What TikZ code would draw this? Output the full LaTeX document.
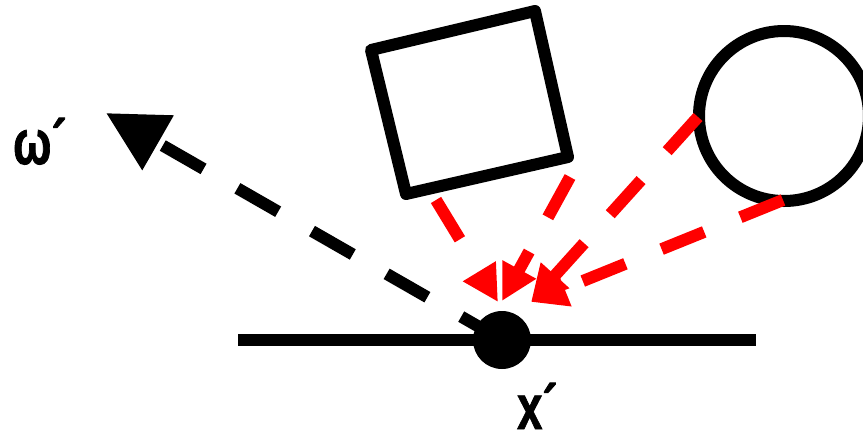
\documentclass[tikz,border=0pt]{standalone}
\usepackage{fontspec}
\setmainfont{Liberation Sans}[BoldFeatures={FakeBold=1.5}]
\usetikzlibrary{arrows.meta}
\begin{document}
\begin{tikzpicture}[x=1pt,y=-1pt,
  thickline/.style={line width=12pt},
  blackarrow/.style={line width=12pt, dash pattern=on 47pt off 39pt, -{Triangle[length=60pt,width=60pt]}},
  redarrow/.style={red, line width=12pt, dash pattern=on 46pt off 39pt, -{Triangle[length=36pt,width=36pt]}},
  lbl/.style={font=\bfseries\fontsize{63}{63}\selectfont, inner sep=0pt, xscale=0.72}]
\useasboundingbox (0,0) rectangle (863,437);
\clip (0,0) rectangle (863,437);
% points
\coordinate (p) at (502,340);
\coordinate (gl) at (238,340);
\coordinate (gr) at (756,340);
\coordinate (wtip) at (106,113);
\coordinate (s1) at (371,50);
\coordinate (s2) at (535,11);
\coordinate (s3) at (568,157);
\coordinate (s4) at (406,194);
\coordinate (c) at (784,116);
\coordinate (r1s) at (436,200);
\coordinate (r1t) at (498,302);
\coordinate (r2s) at (570,177);
\coordinate (r2t) at (502,301);
\coordinate (r3s) at (698,117);
\coordinate (r4s) at (783,200);
\coordinate (r34t) at (531,302);
% ground
\draw[thickline] (gl) -- (gr);
% outgoing direction
\draw[blackarrow] (p) -- (wtip);
\fill (p) circle (29);
% occluders
\draw[thickline, line join=round] (s1) -- (s2) -- (s3) -- (s4) -- cycle;
\draw[thickline] (c) circle (85);
% incoming light
\draw[redarrow] (r1s) -- (r1t);
\draw[redarrow] (r2s) -- (r2t);
\draw[redarrow] (r3s) -- (r34t);
\draw[redarrow] (r4s) -- (r34t);
% labels
\node[lbl, anchor=base west] (w) at (13,164) {ω´};
\node[lbl, anchor=base west] (xl) at (517,429) {x´};
\end{tikzpicture}
\end{document}
